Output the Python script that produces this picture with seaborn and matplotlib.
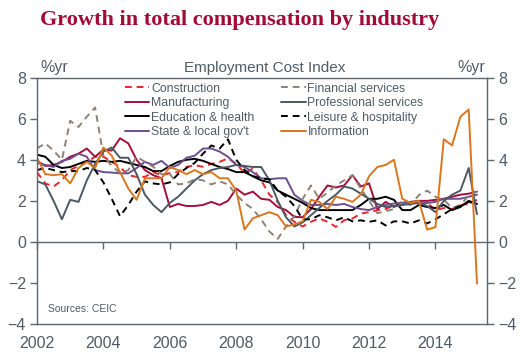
import numpy as np
import pandas as pd
import matplotlib
matplotlib.use('Agg')
import matplotlib.pyplot as plt
import seaborn as sns

# quarterly, 2002Q1 .. 2015Q2 (% yoy)
construction = [3.4, 2.85, 2.7, 3.0, 3.5, 3.7, 3.9, 4.15, 4.15, 3.9, 3.65, 3.25, 3.17, 3.17, 3.4, 3.25,
                3.35, 3.4, 3.65, 3.74, 3.66, 3.8, 3.9, 4.07, 3.82, 3.34, 3.58, 3.0, 2.3, 1.95, 1.3, 0.98,
                0.75, 0.98, 1.14, 0.98, 0.73, 1.06, 1.14, 1.38, 1.45, 1.55, 1.6, 1.79, 1.95, 1.9, 1.85, 1.9,
                1.55, 1.65, 1.6, 1.8, 1.85, 2.05]
financial = [4.56, 4.8, 4.45, 4.0, 5.9, 5.6, 6.1, 6.55, 4.2, 3.7, 3.35, 3.5, 4.15, 3.9, 3.66, 3.3,
             3.3, 2.8, 2.85, 3.05, 3.0, 2.8, 2.95, 2.8, 2.3, 1.9, 1.6, 1.1, 0.5, 0.15, 0.75, 1.25,
             2.1, 2.75, 2.1, 2.4, 2.75, 3.0, 3.25, 2.6, 2.0, 1.4, 1.5, 1.6, 1.9, 1.8, 2.28, 2.5,
             2.2, 2.05, 1.65, 1.8, 2.25, 2.45]
manufacturing = [3.95, 3.7, 3.75, 3.9, 4.15, 4.3, 4.55, 4.15, 4.5, 4.45, 5.05, 4.8, 4.0, 3.5, 3.25, 3.1,
                 1.7, 1.85, 1.75, 1.75, 1.8, 1.95, 1.8, 2.0, 2.6, 2.3, 2.45, 2.1, 2.05, 1.7, 1.55, 1.22,
                 1.2, 1.6, 2.2, 2.75, 2.65, 2.75, 3.25, 2.7, 2.85, 1.6, 1.95, 1.7, 1.9, 1.95, 2.0, 2.0,
                 2.05, 2.1, 2.2, 2.3, 2.35, 2.45]
professional = [2.96, 2.8, 2.0, 1.1, 2.05, 1.95, 3.0, 3.8, 4.4, 4.6, 4.1, 4.1, 3.3, 2.3, 1.8, 1.45,
                1.9, 2.2, 2.6, 3.0, 3.3, 3.5, 3.6, 3.65, 3.75, 3.7, 3.65, 3.65, 3.0, 2.0, 1.2, 0.75,
                0.95, 1.3, 1.65, 2.0, 2.3, 2.7, 2.6, 2.35, 2.1, 1.85, 1.7, 1.75, 1.8, 1.85, 1.9, 1.75,
                1.45, 2.0, 2.3, 2.5, 3.6, 1.35]
education = [4.25, 4.15, 3.75, 3.6, 3.65, 3.8, 3.95, 3.9, 3.95, 3.9, 3.95, 3.85, 3.75, 3.65, 3.45, 3.45,
             3.7, 3.9, 4.0, 4.05, 3.95, 3.8, 3.65, 3.55, 3.4, 3.4, 3.2, 3.0, 2.9, 2.5, 2.3, 2.1,
             1.9, 1.65, 1.55, 1.55, 1.55, 1.55, 1.55, 1.8, 2.1, 2.1, 2.2, 2.05, 1.55, 1.55, 1.8, 1.7,
             1.65, 1.8, 1.55, 1.7, 2.0, 1.85]
leisure = [3.5, 3.6, 3.5, 3.4, 3.45, 3.45, 3.6, 3.5, 2.9, 2.1, 1.25, 1.8, 2.45, 2.95, 2.85, 2.8,
           2.9, 3.3, 3.6, 3.85, 4.3, 4.7, 4.55, 5.0, 4.0, 3.5, 3.2, 3.1, 3.05, 2.5, 2.2, 1.75,
           1.1, 1.1, 1.3, 1.2, 1.05, 1.2, 1.0, 1.05, 0.98, 1.05, 0.8, 1.0, 1.0, 0.9, 1.05, 0.9,
           1.1, 1.35, 1.6, 1.75, 1.95, 1.85]
state_local = [3.85, 3.75, 3.65, 3.95, 4.05, 4.3, 4.15, 3.5, 3.4, 3.38, 3.34, 3.34, 3.6, 3.9, 3.75, 3.95,
               3.6, 3.75, 4.1, 4.2, 4.55, 4.55, 4.4, 4.15, 3.75, 3.65, 3.4, 3.1, 3.05, 3.1, 3.1, 2.3,
               2.0, 1.8, 1.8, 1.85, 1.8, 1.85, 1.7, 1.6, 1.55, 1.7, 1.8, 1.87, 1.9, 1.95, 1.87, 1.9,
               1.95, 2.1, 2.1, 2.1, 2.2, 2.3]
information = [4.1, 3.3, 3.25, 3.3, 2.85, 3.6, 3.9, 3.6, 4.6, 4.2, 3.4, 2.6, 2.05, 3.1, 3.1, 3.1,
               3.65, 3.5, 3.3, 3.5, 3.3, 3.4, 3.1, 3.1, 2.5, 0.6, 1.15, 1.3, 1.45, 1.3, 0.75, 0.85,
               1.0, 2.05, 1.95, 1.6, 2.2, 2.1, 1.95, 2.3, 3.2, 3.65, 3.75, 4.0, 2.1, 1.9, 2.0, 0.6,
               0.72, 5.0, 4.7, 6.1, 6.45, -2.03]

dates = 2002 + np.arange(len(construction)) / 4

series = {
    'Construction': construction,
    'Manufacturing': manufacturing,
    'Education & health': education,
    "State & local gov't": state_local,
    'Financial services': financial,
    'Professional services': professional,
    'Leisure & hospitality': leisure,
    'Information': information,
}
colors = {
    'Construction': '#E8262B',
    'Manufacturing': '#A50D3A',
    'Education & health': '#000000',
    "State & local gov't": '#6C4F8E',
    'Financial services': '#8F8177',
    'Professional services': '#4B5965',
    'Leisure & hospitality': '#000000',
    'Information': '#D9761F',
}
dash = (3.5, 2.5)
dashes = {k: (dash if k in ('Construction', 'Financial services', 'Leisure & hospitality') else '')
          for k in series}

df = pd.concat([pd.DataFrame({'date': dates, 'value': v, 'series': k}) for k, v in series.items()])

txt = '#4F5B66'
sns.set_style('white')
plt.rcParams['font.family'] = ['Liberation Sans', 'DejaVu Sans']

fig = plt.figure(figsize=(5.3, 3.64), dpi=100)
ax = fig.add_axes([0.0698, 0.1099, 0.8496, 0.6766])

order = list(series.keys())
sns.lineplot(data=df, x='date', y='value', hue='series', style='series', hue_order=order,
             style_order=order, palette=colors, dashes=dashes, linewidth=1.4, ax=ax)

ax.set_xlim(2002, 2015.56)
ax.set_ylim(-4, 8)
ax.set_yticks(range(-4, 9, 2))
ax.set_xticks(range(2002, 2015, 2))
ax.set_xlabel('')
ax.set_ylabel('')
for s in ax.spines.values():
    s.set_color('#5A6670')
    s.set_linewidth(1.0)
ax.tick_params(axis='y', left=True, right=True, labelleft=True, labelright=True,
               length=5, width=1, color='#5A6670', labelsize=11.5, labelcolor=txt, pad=3)
ax.tick_params(axis='x', length=0, labelsize=11.5, labelcolor=txt, pad=9)

# zero line carrying the year ticks
sec = ax.secondary_xaxis(1/3)
sec.set_xticks(range(2002, 2015, 2))
sec.tick_params(axis='x', length=5, width=1, color='#5A6670', labelbottom=False, labeltop=False)
for s in sec.spines.values():
    s.set_color('#5A6670')
    s.set_linewidth(1.0)

handles, labels = ax.get_legend_handles_labels()
ax.legend(handles, labels, ncol=2, loc='upper left', bbox_to_anchor=(0.195, 0.98),
          frameon=False, fontsize=8.8, labelcolor=txt, handlelength=2.0, handletextpad=0.15,
          columnspacing=2.2, labelspacing=0.2, borderpad=0, borderaxespad=0)

ax.text(0.007, 1.01, '%yr', transform=ax.transAxes, ha='left', va='bottom', fontsize=11.5, color=txt)
ax.text(0.995, 1.01, '%yr', transform=ax.transAxes, ha='right', va='bottom', fontsize=11.5, color=txt)
ax.text(0.505, 1.01, 'Employment Cost Index', transform=ax.transAxes, ha='center', va='bottom',
        fontsize=11, color=txt)
ax.text(0.025, 0.04, 'Sources: CEIC', transform=ax.transAxes, ha='left', va='bottom',
        fontsize=7.5, color=txt)

fig.text(0.075, 0.945, 'Growth in total compensation by industry', ha='left', va='center',
         fontsize=16, fontweight='bold', color='#A30B37', family=['Liberation Serif', 'DejaVu Serif'])

fig.savefig('out.png', dpi=100)
